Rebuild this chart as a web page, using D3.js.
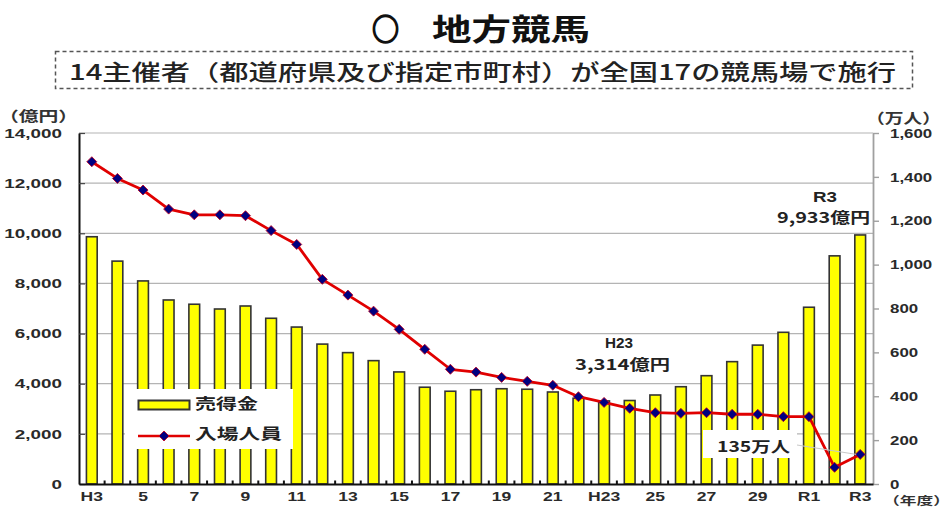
<!DOCTYPE html>
<html lang="ja">
<head>
<meta charset="utf-8">
<title>地方競馬</title>
<script src="https://cdn.jsdelivr.net/npm/d3@7/dist/d3.min.js"></script>
<style>
  html, body { margin: 0; padding: 0; background: #fff; }
  svg { display: block; }
</style>
</head>
<body>
<svg id="chart" width="952" height="508"></svg>
<script>
// Fiscal years (平成3年度 〜 令和3年度)
const categories = [
  "H3","H4","H5","H6","H7","H8","H9","H10","H11","H12",
  "H13","H14","H15","H16","H17","H18","H19","H20","H21","H22",
  "H23","H24","H25","H26","H27","H28","H29","H30","R1","R2","R3"
];
// Labels shown under the x axis (every other year)
const xTickLabels = [
  "H3","","5","","7","","9","","11","",
  "13","","15","","17","","19","","21","",
  "H23","","25","","27","","29","","R1","","R3"
];
// 売得金 (億円)
const sales = [
  9862, 8890, 8100, 7340, 7170, 6980, 7100, 6610, 6260, 5580,
  5240, 4920, 4470, 3860, 3700, 3760, 3800, 3780, 3670, 3420,
  3314, 3330, 3550, 3880, 4320, 4880, 5540, 6050, 7050, 9100, 9933
];
// 入場人員 (万人)
const attendance = [
  1469, 1393, 1340, 1253, 1227, 1227, 1223, 1155, 1092, 933,
  861, 788, 705, 614, 523, 510, 486, 468, 450, 398,
  372, 345, 325, 322, 325, 318, 318, 307, 307, 76, 135
];
const leftTicks = [0, 2000, 4000, 6000, 8000, 10000, 12000, 14000];
const rightTicks = [0, 200, 400, 600, 800, 1000, 1200, 1400, 1600];

const svg = d3.select("#chart");
const plot = { left: 79, right: 873, top: 133, bottom: 484 };
const numFont = "'Liberation Sans', Arial, sans-serif";
const jpFont = "'Noto Sans CJK JP', 'Noto Sans', sans-serif";

const x = d3.scaleBand().domain(categories)
  .range([plot.left, plot.right]).paddingInner(0.58).paddingOuter(0.29);
const yL = d3.scaleLinear().domain([0, 14000]).range([plot.bottom, plot.top]);
const yR = d3.scaleLinear().domain([0, 1600]).range([plot.bottom, plot.top]);
const cx = d => x(d) + x.bandwidth() / 2;

// Text fitted to a fixed width (start anchored)
function fitText(parent, str, tx, ty, size, len, opts = {}) {
  return parent.append("text")
    .attr("x", tx).attr("y", ty)
    .attr("font-size", size)
    .attr("font-family", opts.family || jpFont)
    .attr("font-weight", opts.weight || "bold")
    .attr("fill", opts.fill || "#222")
    .attr("textLength", len)
    .attr("lengthAdjust", "spacingAndGlyphs")
    .text(str);
}

// Title and subtitle
fitText(svg, "○", 372, 40, 30, 27, { weight: "bold", fill: "#111" })
  .attr("stroke", "#111").attr("stroke-width", 1.6);
fitText(svg, "地方競馬", 432, 40, 30, 158, { weight: "bold", fill: "#111" });
svg.append("rect")
  .attr("x", 55.5).attr("y", 51.5).attr("width", 857).attr("height", 37)
  .attr("fill", "none").attr("stroke", "#555").attr("stroke-width", 1.5)
  .attr("stroke-dasharray", "4,3");
fitText(svg, "14主催者（都道府県及び指定市町村）が全国17の競馬場で施行", 69, 79.5, 22, 827,
  { weight: 500, fill: "#222" });

// Gridlines
svg.append("g").selectAll("line").data(leftTicks.slice(1)).join("line")
  .attr("x1", plot.left).attr("x2", plot.right)
  .attr("y1", d => yL(d)).attr("y2", d => yL(d))
  .attr("stroke", "#b4b4b4").attr("stroke-width", 1.2);

// Bars: 売得金
svg.append("g").selectAll("rect").data(categories).join("rect")
  .attr("x", d => x(d))
  .attr("y", (d, i) => yL(sales[i]))
  .attr("width", x.bandwidth())
  .attr("height", (d, i) => yL(0) - yL(sales[i]))
  .attr("fill", "#ffff00").attr("stroke", "#333").attr("stroke-width", 1.6);

// Stretched axis text
function stretchTicks(g, sx, size, fill) {
  g.selectAll(".tick text").each(function () {
    const t = d3.select(this);
    const tx = +t.attr("x") || 0;
    t.attr("x", tx / sx).attr("transform", `scale(${sx},1)`)
      .attr("font-size", size).attr("font-family", numFont)
      .attr("font-weight", "bold").attr("fill", fill);
  });
}

// Left axis (億円)
const gL = svg.append("g").attr("transform", `translate(${plot.left},0)`)
  .call(d3.axisLeft(yL).tickValues(leftTicks).tickFormat(d3.format(","))
    .tickSizeInner(-6).tickSizeOuter(0).tickPadding(17));
gL.select(".domain").attr("stroke", "#111").attr("stroke-width", 2);
gL.selectAll(".tick line").attr("stroke", "#444").attr("stroke-width", 1.2);
stretchTicks(gL, 1.45, 13, "#2a2a2a");

// Right axis (万人)
const gR = svg.append("g").attr("transform", `translate(${plot.right},0)`)
  .call(d3.axisRight(yR).tickValues(rightTicks).tickFormat(d3.format(","))
    .tickSizeInner(6).tickSizeOuter(0).tickPadding(11));
gR.select(".domain").attr("stroke", "#a0a0a0").attr("stroke-width", 1.8);
gR.selectAll(".tick line").attr("stroke", "#a0a0a0").attr("stroke-width", 1.4);
stretchTicks(gR, 1.3, 13, "#2a2a2a");

// Bottom axis
const gB = svg.append("g").attr("transform", `translate(0,${plot.bottom})`)
  .call(d3.axisBottom(x).tickFormat((d, i) => xTickLabels[i])
    .tickSize(0).tickPadding(8));
gB.select(".domain").attr("stroke", "#111").attr("stroke-width", 2);
stretchTicks(gB, 1.35, 13, "#2a2a2a");
// small marks at the category boundaries
const gap = (x.step() - x.bandwidth()) / 2;
svg.append("g").selectAll("line").data(categories.slice(1)).join("line")
  .attr("x1", d => x(d) - gap).attr("x2", d => x(d) - gap)
  .attr("y1", plot.bottom).attr("y2", plot.bottom - 3.5)
  .attr("stroke", "#111").attr("stroke-width", 2);

// Axis units
fitText(svg, "（億円）", -1, 121, 14, 79, { fill: "#333" });
fitText(svg, "（万人）", 866, 123, 14, 75, { fill: "#333" });
fitText(svg, "（年度）", 883, 504.5, 11.5, 67, { fill: "#333" });

// Line: 入場人員
const line = d3.line().x(d => cx(d)).y((d, i) => yR(attendance[i]));
svg.append("path").datum(categories)
  .attr("d", line).attr("fill", "none")
  .attr("stroke", "#e00000").attr("stroke-width", 2.8).attr("stroke-linejoin", "round");
const diamond = d3.symbol().type(d3.symbolSquare).size(50);
svg.append("g").selectAll("path").data(categories).join("path")
  .attr("d", diamond)
  .attr("transform", (d, i) => `translate(${cx(d)},${yR(attendance[i])}) rotate(45)`)
  .attr("fill", "#000080").attr("stroke", "#c00020").attr("stroke-width", 0.8);

// Legend
const lg = svg.append("g");
lg.append("rect").attr("x", 125).attr("y", 389).attr("width", 168).attr("height", 60)
  .attr("fill", "#fff");
lg.append("rect").attr("x", 138.5).attr("y", 400.5).attr("width", 51).attr("height", 9)
  .attr("fill", "#ffff00").attr("stroke", "#333").attr("stroke-width", 2);
fitText(lg, "売得金", 195, 409, 15, 63, { fill: "#222" });
lg.append("line").attr("x1", 138).attr("x2", 190).attr("y1", 436).attr("y2", 436)
  .attr("stroke", "#e00000").attr("stroke-width", 2.4);
lg.append("path").attr("d", diamond)
  .attr("transform", "translate(164,436) rotate(45)")
  .attr("fill", "#000080").attr("stroke", "#c00020").attr("stroke-width", 0.8);
fitText(lg, "入場人員", 195, 439, 15, 87, { fill: "#222" });

// Annotations
const fmt = d3.format(",");
const iMin = categories.indexOf("H23");
const iLast = categories.length - 1;
fitText(svg, categories[iMin], 605, 348, 15, 28, { family: numFont, fill: "#222" });
fitText(svg, fmt(sales[iMin]) + "億円", 575, 370, 15, 95, { fill: "#222" });
fitText(svg, categories[iLast], 813, 202, 15, 24, { family: numFont, fill: "#222" });
fitText(svg, fmt(sales[iLast]) + "億円", 777, 223, 15, 93, { fill: "#222" });

// 135万人 callout
const cyLast = yR(attendance[iLast]);
svg.append("line").attr("x1", 797).attr("y1", 445).attr("x2", cx(categories[iLast]) - 4).attr("y2", cyLast)
  .attr("stroke", "#c8c8c8").attr("stroke-width", 1);
svg.append("rect").attr("x", 703).attr("y", 430).attr("width", 94).attr("height", 28)
  .attr("fill", "#fff");
fitText(svg, attendance[iLast] + "万人", 717, 452, 15, 73, { fill: "#222" });
</script>
</body>
</html>
